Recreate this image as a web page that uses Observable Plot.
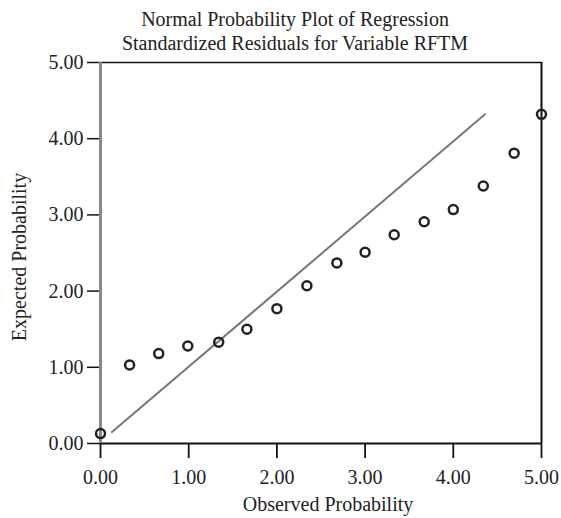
<!DOCTYPE html>
<html><head><meta charset="utf-8">
<script src="https://cdn.jsdelivr.net/npm/d3@7"></script>
<script src="https://cdn.jsdelivr.net/npm/@observablehq/plot@0.6"></script>
<style>
body{margin:0;background:#fff}svg{display:block}
g[aria-label="x-axis tick label"], g[aria-label="y-axis tick label"]{font-size:20px !important;}
</style>
</head><body><div id="chart"></div>
<script>
const titleText = "Normal Probability Plot of Regression\nStandardized Residuals for Variable RFTM";
const xLabel = "Observed Probability";
const yLabel = "Expected Probability";
const tickValues = [0, 1, 2, 3, 4, 5];
const observed = [0.00, 0.33, 0.66, 0.99, 1.34, 1.66, 2.00, 2.34, 2.68, 3.00, 3.33, 3.67, 4.00, 4.34, 4.69, 5.00];
const expected = [0.13, 1.03, 1.18, 1.28, 1.33, 1.50, 1.77, 2.07, 2.37, 2.51, 2.74, 2.91, 3.07, 3.38, 3.81, 4.32];
const lineX = [0.13, 4.36];
const lineY = [0.15, 4.32];

const pts = observed.map((x, i) => ({x, y: expected[i]}));
const ln = lineX.map((x, i) => ({x, y: lineY[i]}));
const font = "Liberation Serif, Times New Roman, serif";

const chart = Plot.plot({
  width: 561, height: 518,
  marginTop: 62, marginLeft: 100, marginRight: 20, marginBottom: 75,
  style: {fontFamily: font, fontSize: "20px", color: "#222", background: "#fff"},
  x: {domain: [0, 5], label: null},
  y: {domain: [0, 5], label: null},
  marks: [
    Plot.axisX({ticks: tickValues, tickFormat: d3.format(".2f"), tickSize: 15, tickPadding: 11, stroke: "#111", strokeWidth: 1.8, fontSize: 20, label: null}),
    Plot.axisY({ticks: tickValues, tickFormat: d3.format(".2f"), tickSize: 13, tickPadding: 4, stroke: "#111", strokeWidth: 1.5, fontSize: 20, label: null}),
    Plot.ruleY([5], {stroke: "#111", strokeWidth: 1.5}),
    Plot.ruleX([5], {stroke: "#111", strokeWidth: 2}),
    Plot.ruleY([0], {stroke: "#111", strokeWidth: 2}),
    Plot.ruleX([0], {stroke: "#888", strokeWidth: 3}),
    Plot.line(ln, {x: "x", y: "y", stroke: "#777", strokeWidth: 2}),
    Plot.dot(pts, {x: "x", y: "y", r: 4.5, stroke: "#222", strokeWidth: 2.5, fill: "none"}),
    Plot.text([titleText], {frameAnchor: "top", dx: -26, dy: -13, textAnchor: "middle", lineAnchor: "bottom", lineHeight: 1.2, fontSize: 20, fill: "#222"}),
    Plot.text([xLabel], {frameAnchor: "bottom", dx: 7, dy: 67, textAnchor: "middle", lineAnchor: "bottom", fontSize: 20, fill: "#222"}),
    Plot.text([yLabel], {frameAnchor: "left", dx: -81, dy: 4, rotate: -90, textAnchor: "middle", lineAnchor: "middle", fontSize: 20, fill: "#222"})
  ]
});
document.getElementById("chart").appendChild(chart);
</script></body></html>
